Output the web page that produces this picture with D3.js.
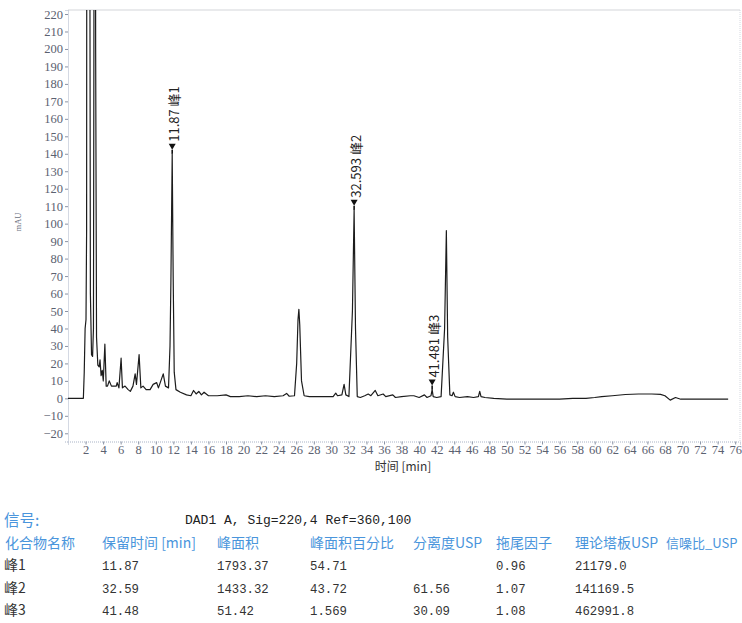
<!DOCTYPE html>
<html>
<head>
<meta charset="utf-8">
<script src="https://cdn.jsdelivr.net/npm/d3@7"></script>
<style>
  html, body { margin: 0; padding: 0; background: #fff; }
  svg { display: block; }
</style>
</head>
<body>
<svg id="chart" width="742" height="623"></svg>
<script>
// Chromatogram trace: [retention time (min), signal (mAU)]
const trace = [
  [0, 0], [1.75, 0], [1.85, 15], [1.95, 40], [2.05, 45], [2.12, 96], [2.18, 700], [2.3, 900],
  [2.42, 500], [2.55, 60], [2.68, 25], [2.8, 24], [2.9, 40], [2.95, 200], [3.05, 700],
  [3.15, 200], [3.25, 35], [3.4, 19], [3.55, 18], [3.65, 22], [3.77, 13], [3.9, 16],
  [4.02, 10], [4.2, 31], [4.35, 7], [4.5, 7], [4.7, 10], [4.95, 7], [5.5, 7], [5.6, 9],
  [5.8, 6], [6.05, 23], [6.2, 6], [6.5, 7], [6.85, 5], [7.1, 4], [7.4, 7], [7.65, 14],
  [7.8, 8], [8.1, 25], [8.3, 6], [8.55, 7], [8.9, 5], [9.35, 5], [9.7, 8], [10.1, 9],
  [10.3, 6], [10.85, 14], [11.1, 7], [11.45, 6], [11.62, 30], [11.72, 66], [11.87, 140],
  [11.98, 70], [12.1, 15], [12.3, 5], [12.8, 3.5], [13.5, 2], [14.0, 1.5], [14.3, 4.5],
  [14.6, 2.5], [14.9, 4], [15.2, 2], [15.5, 3.5], [16.0, 1.5], [17.0, 1.5], [18.0, 2],
  [18.5, 1], [19.5, 1], [20.5, 1.5], [21.5, 1], [22.5, 1.5], [23.5, 1], [24.5, 1.5],
  [24.9, 2.8], [25.2, 1.2], [25.8, 1.5], [26.05, 20], [26.2, 45], [26.3, 51], [26.4, 42],
  [26.6, 10], [26.9, 1.5], [27.5, 1], [28.5, 1], [29.5, 1], [30.2, 1], [30.5, 3],
  [30.7, 1.5], [31.2, 2], [31.45, 8], [31.65, 2], [32.0, 1], [32.4, 50], [32.593, 108],
  [32.75, 40], [32.95, 1], [33.3, 0.5], [33.8, 1.5], [34.2, 2.5], [34.5, 1.5], [35.0, 4.5],
  [35.3, 1.5], [35.9, 2.5], [36.2, 1], [37.0, 2], [37.3, 0.5], [38.0, 1], [39.0, 1.5],
  [39.4, 1.5], [40.0, 0.5], [40.6, 2], [40.9, 0.5], [41.35, 1.5], [41.481, 5], [41.6, 1],
  [42.0, 0.5], [42.5, 1], [42.9, 40], [43.1, 96], [43.25, 35], [43.5, 2], [43.75, 1.5],
  [43.9, 3.5], [44.1, 1], [44.6, 0.5], [45.5, 1], [46.2, 0.5], [46.75, 1], [46.9, 4],
  [47.05, 1], [47.5, 0.5], [48.5, 0], [50, -0.5], [53, -0.5], [56, -0.5], [57.5, 0],
  [59, 0], [60, 0.5], [60.8, 1], [62, 1.5], [63.5, 2.2], [65, 2.5], [66.5, 2.5],
  [67.5, 2.3], [68.0, 1.5], [68.6, -1], [69.2, 0.5], [69.8, -0.5], [71, -0.5], [75.2, -0.5]
];

// Integrated peaks
const peakTimes = [11.87, 32.593, 41.481];
const peakNames = ["峰1", "峰2", "峰3"];

// Axis ticks
const xTicks = d3.range(2, 77, 2);
const yTicks = d3.range(-20, 221, 10);

// Result table
const signalText = "DAD1 A, Sig=220,4 Ref=360,100";
const tableHeaders = ["化合物名称", "保留时间 [min]", "峰面积", "峰面积百分比", "分离度USP", "拖尾因子", "理论塔板USP", "信噪比_USP"];
const compounds = ["峰1", "峰2", "峰3"];
const retTimes = ["11.87", "32.59", "41.48"];
const areas = ["1793.37", "1433.32", "51.42"];
const areaPct = ["54.71", "43.72", "1.569"];
const resolution = ["", "61.56", "30.09"];
const tailing = ["0.96", "1.07", "1.08"];
const plates = ["21179.0", "141169.5", "462991.8"];
const snr = ["", "", ""];

const svg = d3.select("#chart");
const plot = { left: 68, right: 740, top: 10, bottom: 441.5 };

const x = d3.scaleLinear().domain([0, 76.55]).range([plot.left, plot.right]);
const y = d3.scaleLinear().domain([-24.7, 222.3]).range([plot.bottom, plot.top]);

const tickFont = "'Liberation Serif', 'DejaVu Serif', serif";
const tickColor = "#5b6170";

// frame (top and right)
svg.append("line").attr("x1", plot.left).attr("x2", plot.right)
  .attr("y1", plot.top).attr("y2", plot.top)
  .attr("stroke", "#d4d6da").attr("stroke-width", 1.2);
svg.append("line").attr("x1", plot.right).attr("x2", plot.right)
  .attr("y1", plot.top).attr("y2", plot.bottom)
  .attr("stroke", "#d4d8e0").attr("stroke-width", 1).attr("stroke-dasharray", "1,1");

// y axis
const gy = svg.append("g").attr("transform", `translate(${plot.left},0)`)
  .call(d3.axisLeft(y).tickValues(yTicks).tickSize(3).tickPadding(2).tickFormat(d3.format("d")));
gy.select(".domain").attr("stroke", "#a9b3c6").attr("stroke-dasharray", "1,1");
gy.selectAll(".tick line").attr("stroke", "#8a93a5");
gy.selectAll(".tick text").attr("font-family", tickFont).attr("font-size", 12.5)
  .attr("fill", tickColor).text(d => d < 0 ? "−" + Math.abs(d) : d);

// x axis
const gx = svg.append("g").attr("transform", `translate(0,${plot.bottom})`)
  .call(d3.axisBottom(x).tickValues(xTicks).tickSize(3).tickPadding(1));
gx.select(".domain").attr("stroke", "#a9b3c6").attr("stroke-dasharray", "1,1");
gx.selectAll(".tick line").attr("stroke", "#8a93a5");
gx.selectAll(".tick text").attr("font-family", tickFont).attr("font-size", 12.5).attr("fill", tickColor);

// axis titles
svg.append("text")
  .attr("transform", `translate(21,222) rotate(-90)`)
  .attr("text-anchor", "middle")
  .attr("font-family", tickFont).attr("font-size", 8.5).attr("fill", "#6a7080")
  .text("mAU");
svg.append("text")
  .attr("x", 403).attr("y", 471)
  .attr("text-anchor", "middle")
  .attr("font-family", "'Noto Sans CJK SC', sans-serif").attr("font-size", 12).attr("fill", "#333")
  .text("时间 [min]");

// trace, clipped to the plot area
svg.append("clipPath").attr("id", "plotClip")
  .append("rect").attr("x", plot.left).attr("y", plot.top)
  .attr("width", plot.right - plot.left).attr("height", plot.bottom - plot.top);

const line = d3.line().x(d => x(d[0])).y(d => y(d[1]));
svg.append("path")
  .datum(trace)
  .attr("clip-path", "url(#plotClip)")
  .attr("fill", "none")
  .attr("stroke", "#1c1c1c")
  .attr("stroke-width", 1.2)
  .attr("stroke-linejoin", "round")
  .attr("d", line);

// peak markers and labels
const peaks = peakTimes.map((t, i) => {
  const pt = trace.find(d => d[0] === t);
  return { t, h: pt[1], name: peakNames[i] };
});
const pg = svg.append("g");
peaks.forEach(p => {
  const px = x(p.t), py = y(p.h);
  const tipY = py - 4;
  pg.append("line").attr("x1", px).attr("x2", px).attr("y1", py).attr("y2", tipY)
    .attr("stroke", "#111").attr("stroke-width", 1.6);
  pg.append("path")
    .attr("d", `M${px - 3.5},${tipY - 6} L${px + 3.5},${tipY - 6} L${px},${tipY} Z`)
    .attr("fill", "#111");
  pg.append("text")
    .attr("transform", `translate(${px + 1},${tipY - 8}) rotate(-90)`)
    .attr("text-anchor", "start")
    .attr("dominant-baseline", "central")
    .attr("font-family", "'Noto Sans CJK SC', 'Noto Sans', sans-serif")
    .attr("font-size", 13).attr("fill", "#222")
    .text(`${p.t} ${p.name}`);
});

// result table
const blue = "#4a95dc";
const cjk = "'Noto Sans CJK SC', 'Noto Sans', sans-serif";
const mono = "'Liberation Mono', 'DejaVu Sans Mono', monospace";
const colX = [5, 102, 217, 310, 413, 496, 575, 666];
const headerSize = [14, 14, 14, 14, 14, 14, 14, 13];

svg.append("text").attr("x", 4).attr("y", 526)
  .attr("font-family", cjk).attr("font-size", 15.5).attr("fill", blue)
  .text("信号:");
svg.append("text").attr("x", 185).attr("y", 524)
  .attr("font-family", mono).attr("font-size", 13).attr("fill", "#222")
  .text(signalText);

svg.append("g").selectAll("text").data(tableHeaders).join("text")
  .attr("x", (d, i) => colX[i]).attr("y", 548)
  .attr("font-family", cjk).attr("font-size", (d, i) => headerSize[i]).attr("fill", blue)
  .text(d => d);

const rowY = [570, 593, 615];
const numericCols = [retTimes, areas, areaPct, resolution, tailing, plates, snr];
compounds.forEach((c, r) => {
  svg.append("text").attr("x", colX[0] - 1).attr("y", rowY[r])
    .attr("font-family", cjk).attr("font-size", 14).attr("fill", "#333")
    .text(c);
  numericCols.forEach((col, ci) => {
    if (!col[r]) return;
    svg.append("text").attr("x", colX[ci + 1]).attr("y", rowY[r])
      .attr("font-family", mono).attr("font-size", 12.3).attr("fill", "#333")
      .text(col[r]);
  });
});
</script>
</body>
</html>
